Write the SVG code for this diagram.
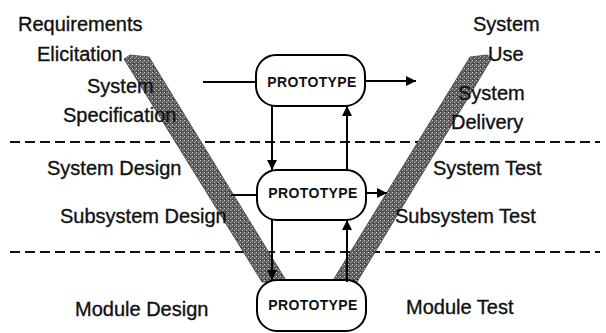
<svg xmlns="http://www.w3.org/2000/svg" width="606" height="333" viewBox="0 0 606 333">
  <defs>
    <pattern id="dither" width="4" height="4" patternUnits="userSpaceOnUse">
      <rect width="4" height="4" fill="#5e5e5e"/>
      <rect x="0" y="0" width="1" height="1" fill="#d0d0d0"/>
      <rect x="2" y="2" width="1" height="1" fill="#b0b0b0"/>
      <rect x="3" y="1" width="1" height="1" fill="#8a8a8a"/>
      <rect x="1" y="3" width="1" height="1" fill="#2a2a2a"/>
    </pattern>
    <marker id="arrow" viewBox="0 0 10 10" refX="10" refY="5" markerWidth="10" markerHeight="10" markerUnits="userSpaceOnUse" orient="auto">
      <path d="M0,0 L10,5 L0,10 z" fill="#000"/>
    </marker>
  </defs>
  <style>
    .lbl { font-family: "Liberation Sans", Arial, sans-serif; font-size: 20px; fill: #111; stroke: #111; stroke-width: 0.35; }
    .proto { font-family: "Liberation Sans", Arial, sans-serif; font-size: 14px; font-weight: bold; fill: #111; text-anchor: middle; letter-spacing: 0.4px; }
    .box { fill: #fff; stroke: #000; stroke-width: 2; }
    .dash { stroke: #111; stroke-width: 2; stroke-dasharray: 10 5; fill: none; }
    .conn { stroke: #000; stroke-width: 2; fill: none; }
    .band { fill: url(#dither); stroke: #444; stroke-width: 0.8; }
  </style>
  <rect width="606" height="333" fill="#fff"/>

  <g id="separators">
    <line class="dash" x1="10" y1="142" x2="600" y2="142"/>
    <line class="dash" x1="10" y1="252" x2="600" y2="252"/>
  </g>

  <g id="v-left">
    <polygon class="band" points="124,59 130,55 149,57 287,282 262,282"/>
  </g>
  <g id="v-right">
    <polygon class="band" points="470,57 487,55 492,58 357,282 332,282"/>
  </g>

  <g id="connectors">
    <line class="conn" x1="203" y1="82" x2="257" y2="82"/>
    <line class="conn" x1="365" y1="81" x2="416" y2="81" marker-end="url(#arrow)"/>
    <line class="conn" x1="231" y1="195" x2="257" y2="195"/>
    <line class="conn" x1="366" y1="193" x2="387" y2="193" marker-end="url(#arrow)"/>
  </g>

  <g id="proto-top">
    <rect class="box" x="256" y="55" width="109" height="51" rx="20" ry="20"/>
    <text class="proto" x="312" y="87">PROTOTYPE</text>
  </g>
  <g id="proto-mid">
    <rect class="box" x="257" y="170" width="109" height="50" rx="20" ry="20"/>
    <text class="proto" x="313" y="198">PROTOTYPE</text>
  </g>
  <g id="proto-bottom">
    <rect class="box" x="257" y="280" width="109" height="51" rx="20" ry="20"/>
    <text class="proto" x="313" y="310">PROTOTYPE</text>
  </g>

  <g id="connectors-vertical">
    <line class="conn" x1="272" y1="106" x2="272" y2="170" marker-end="url(#arrow)"/>
    <line class="conn" x1="347" y1="170" x2="347" y2="106" marker-end="url(#arrow)"/>
    <line class="conn" x1="272" y1="220" x2="272" y2="280" marker-end="url(#arrow)"/>
    <line class="conn" x1="347" y1="282" x2="347" y2="220" marker-end="url(#arrow)"/>
  </g>

  <g id="labels-left">
    <text class="lbl" x="18" y="31">Requirements</text>
    <text class="lbl" x="37" y="61">Elicitation</text>
    <text class="lbl" x="87" y="93">System</text>
    <text class="lbl" x="63" y="122">Specification</text>
    <text class="lbl" x="47" y="175">System Design</text>
    <text class="lbl" x="60" y="223">Subsystem Design</text>
    <text class="lbl" x="75" y="316">Module Design</text>
  </g>
  <g id="labels-right">
    <text class="lbl" x="473" y="31">System</text>
    <text class="lbl" x="488" y="61">Use</text>
    <text class="lbl" x="458" y="100">System</text>
    <text class="lbl" x="451" y="129">Delivery</text>
    <text class="lbl" x="433" y="175">System Test</text>
    <text class="lbl" x="395" y="223">Subsystem Test</text>
    <text class="lbl" x="406" y="314">Module Test</text>
  </g>
</svg>
